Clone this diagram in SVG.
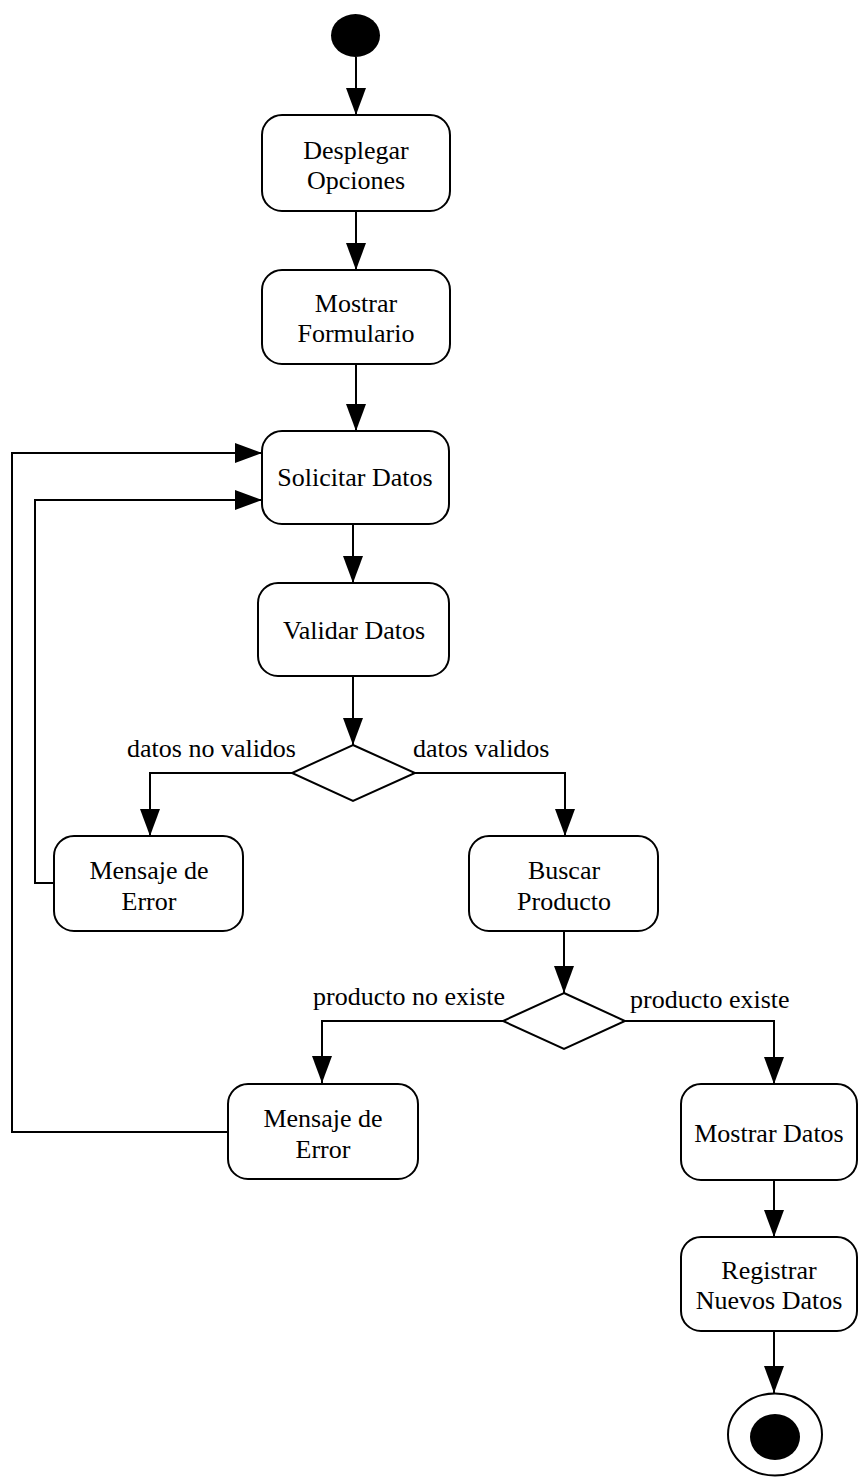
<svg xmlns="http://www.w3.org/2000/svg" width="859" height="1482" viewBox="0 0 859 1482">
<style>
.box{fill:#fff;stroke:#000;stroke-width:2}
.dia{fill:#fff;stroke:#000;stroke-width:2}
.ln{fill:none;stroke:#000;stroke-width:2}
text{font-family:"Liberation Serif","Times New Roman",serif;font-size:26px;fill:#000}
.c{text-anchor:middle}
</style>
<defs>
<marker id="arr" viewBox="0 0 27 20" refX="27" refY="10" markerWidth="27" markerHeight="20" markerUnits="userSpaceOnUse" orient="auto">
<path d="M0,0 L27,10 L0,20 z" fill="#000"/>
</marker>
</defs>
<rect width="859" height="1482" fill="#fff"/>
<g id="connectors">
<line class="ln" x1="356" y1="57" x2="356" y2="115" marker-end="url(#arr)"/>
<line class="ln" x1="356" y1="211" x2="356" y2="270" marker-end="url(#arr)"/>
<line class="ln" x1="356" y1="364" x2="356" y2="431" marker-end="url(#arr)"/>
<line class="ln" x1="353" y1="524" x2="353" y2="583" marker-end="url(#arr)"/>
<line class="ln" x1="353" y1="676" x2="353" y2="745" marker-end="url(#arr)"/>
<polyline class="ln" points="292,773 150,773 150,836" marker-end="url(#arr)"/>
<polyline class="ln" points="415,773 565,773 565,836" marker-end="url(#arr)"/>
<polyline class="ln" points="54,883 35,883 35,500 262,500" marker-end="url(#arr)"/>
<line class="ln" x1="564" y1="931" x2="564" y2="993" marker-end="url(#arr)"/>
<polyline class="ln" points="503,1021 322,1021 322,1083" marker-end="url(#arr)"/>
<polyline class="ln" points="625,1021 774,1021 774,1084" marker-end="url(#arr)"/>
<polyline class="ln" points="228,1132 12,1132 12,453 262,453" marker-end="url(#arr)"/>
<line class="ln" x1="774" y1="1180" x2="774" y2="1237" marker-end="url(#arr)"/>
<line class="ln" x1="774" y1="1331" x2="774" y2="1393" marker-end="url(#arr)"/>
<text x="127" y="757">datos no validos</text>
<text x="413" y="757">datos validos</text>
<text x="313" y="1005">producto no existe</text>
<text x="630" y="1008">producto existe</text>
</g>
<g id="start"><ellipse cx="355.5" cy="35.5" rx="24.5" ry="21.5" fill="#000"/></g>
<g id="desplegar"><rect class="box" x="262" y="115" width="188" height="96" rx="20"/><text class="c" x="356" y="159">Desplegar</text><text class="c" x="356" y="189">Opciones</text></g>
<g id="mostrarFormulario"><rect class="box" x="262" y="270" width="188" height="94" rx="20"/><text class="c" x="356" y="312">Mostrar</text><text class="c" x="356" y="342">Formulario</text></g>
<g id="solicitar"><rect class="box" x="262" y="431" width="187" height="93" rx="20"/><text class="c" x="355" y="486">Solicitar Datos</text></g>
<g id="validar"><rect class="box" x="258" y="583" width="191" height="93" rx="20"/><text class="c" x="354" y="639">Validar Datos</text></g>
<g id="decision1"><polygon class="dia" points="353,745 415,773 353,801 292,773"/></g>
<g id="error1"><rect class="box" x="54" y="836" width="189" height="95" rx="20"/><text class="c" x="149" y="879">Mensaje de</text><text class="c" x="149" y="910">Error</text></g>
<g id="buscar"><rect class="box" x="469" y="836" width="189" height="95" rx="20"/><text class="c" x="564" y="879">Buscar</text><text class="c" x="564" y="910">Producto</text></g>
<g id="decision2"><polygon class="dia" points="564,993 625,1021 564,1049 503,1021"/></g>
<g id="error2"><rect class="box" x="228" y="1084" width="190" height="95" rx="20"/><text class="c" x="323" y="1127">Mensaje de</text><text class="c" x="323" y="1158">Error</text></g>
<g id="mostrarDatos"><rect class="box" x="681" y="1084" width="176" height="96" rx="20"/><text class="c" x="769" y="1142">Mostrar Datos</text></g>
<g id="registrar"><rect class="box" x="681" y="1237" width="176" height="94" rx="20"/><text class="c" x="769" y="1279">Registrar</text><text class="c" x="769" y="1309">Nuevos Datos</text></g>
<g id="end"><ellipse cx="775" cy="1434.5" rx="47" ry="41" fill="#fff" stroke="#000" stroke-width="2"/><ellipse cx="775" cy="1437" rx="25" ry="23" fill="#000"/></g>
</svg>
